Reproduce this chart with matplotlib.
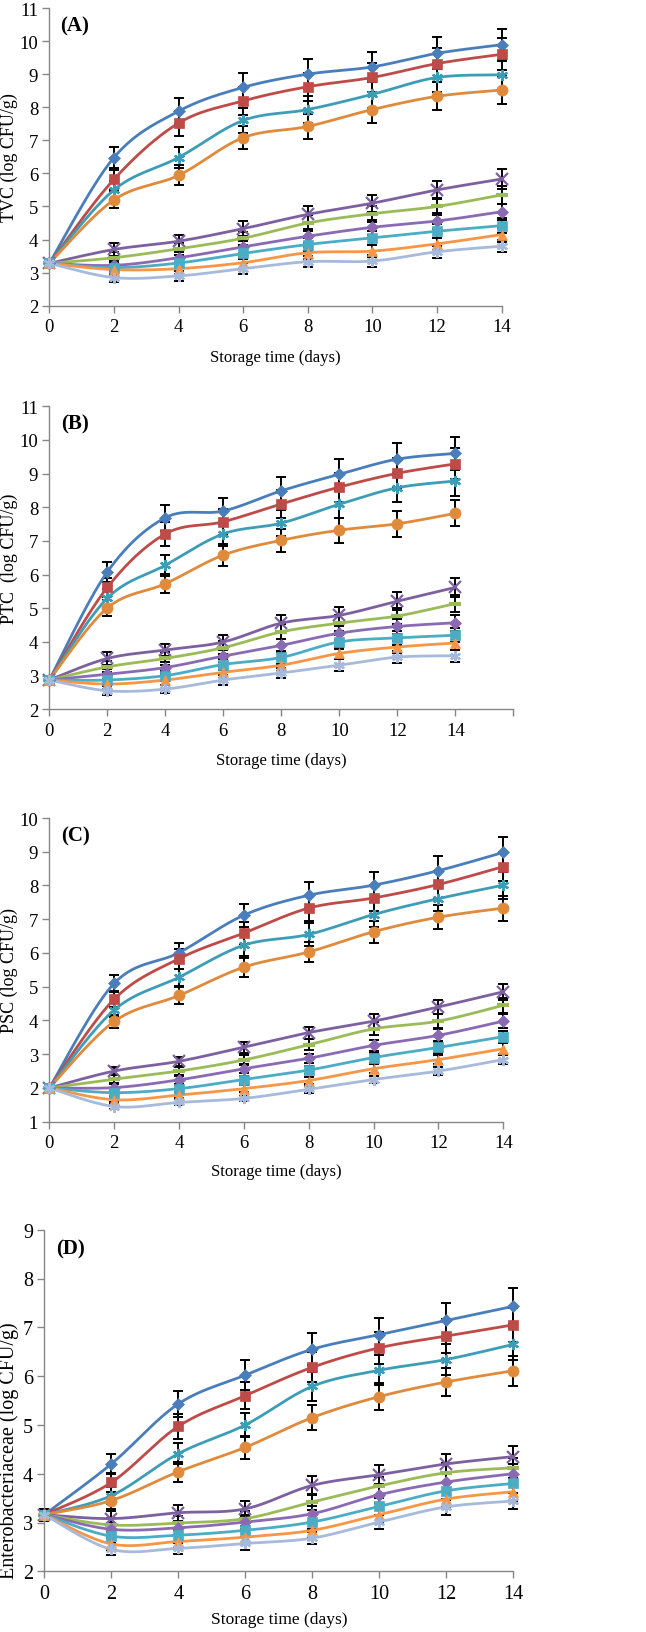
import numpy as np
import matplotlib
matplotlib.use("Agg")
import matplotlib.pyplot as plt

plt.rcParams['font.family'] = ['Liberation Serif', 'DejaVu Serif']

days = [0, 2, 4, 6, 8, 10, 12, 14]

# ---------------- Panel A : TVC ----------------
A_vals = [
    [3.28, 6.48, 7.88, 8.60, 9.00, 9.22, 9.63, 9.89],
    [3.28, 5.82, 7.52, 8.19, 8.62, 8.90, 9.32, 9.60],
    [3.28, 5.50, 6.48, 7.60, 7.93, 8.39, 8.90, 8.98],
    [3.28, 5.20, 5.94, 7.08, 7.42, 7.93, 8.33, 8.52],
    [3.28, 3.70, 3.95, 4.33, 4.76, 5.10, 5.50, 5.83],
    [3.28, 3.45, 3.72, 4.04, 4.50, 4.78, 5.00, 5.35],
    [3.28, 3.22, 3.45, 3.78, 4.10, 4.37, 4.56, 4.84],
    [3.28, 3.15, 3.29, 3.58, 3.85, 4.05, 4.25, 4.42],
    [3.28, 3.09, 3.12, 3.30, 3.60, 3.65, 3.87, 4.15],
    [3.28, 2.85, 2.90, 3.12, 3.33, 3.35, 3.63, 3.80],
]
A_err = [
    [0.08, 0.32, 0.39, 0.43, 0.45, 0.46, 0.48, 0.49],
    [0.08, 0.29, 0.38, 0.41, 0.43, 0.45, 0.47, 0.48],
    [0.08, 0.28, 0.32, 0.38, 0.40, 0.42, 0.45, 0.45],
    [0.08, 0.26, 0.30, 0.35, 0.37, 0.40, 0.42, 0.43],
    [0.08, 0.19, 0.20, 0.22, 0.24, 0.26, 0.28, 0.29],
    [0.08, 0.17, 0.19, 0.20, 0.23, 0.24, 0.25, 0.27],
    [0.08, 0.16, 0.17, 0.19, 0.21, 0.22, 0.23, 0.24],
    [0.08, 0.16, 0.16, 0.18, 0.19, 0.20, 0.21, 0.22],
    [0.08, 0.15, 0.16, 0.17, 0.18, 0.18, 0.19, 0.21],
    [0.08, 0.14, 0.15, 0.16, 0.17, 0.17, 0.18, 0.19],
]

# ---------------- Panel B : PTC ----------------
B_vals = [
    [2.87, 6.08, 7.69, 7.89, 8.49, 8.98, 9.43, 9.60],
    [2.87, 5.62, 7.21, 7.57, 8.10, 8.60, 9.01, 9.29],
    [2.87, 5.30, 6.28, 7.21, 7.53, 8.09, 8.58, 8.78],
    [2.87, 5.01, 5.73, 6.58, 7.02, 7.32, 7.51, 7.82],
    [2.87, 3.51, 3.76, 4.00, 4.56, 4.79, 5.21, 5.62],
    [2.87, 3.26, 3.51, 3.83, 4.30, 4.56, 4.77, 5.14],
    [2.87, 3.04, 3.24, 3.58, 3.90, 4.26, 4.46, 4.57],
    [2.87, 2.87, 3.00, 3.33, 3.54, 4.00, 4.12, 4.20],
    [2.87, 2.75, 2.87, 3.10, 3.31, 3.66, 3.85, 3.97],
    [2.87, 2.55, 2.60, 2.87, 3.08, 3.31, 3.55, 3.59],
]
B_err = [
    [0.07, 0.30, 0.38, 0.39, 0.42, 0.45, 0.47, 0.48],
    [0.07, 0.28, 0.36, 0.38, 0.41, 0.43, 0.45, 0.46],
    [0.07, 0.27, 0.31, 0.36, 0.38, 0.40, 0.43, 0.44],
    [0.07, 0.25, 0.29, 0.33, 0.35, 0.37, 0.38, 0.39],
    [0.07, 0.18, 0.19, 0.20, 0.23, 0.24, 0.26, 0.28],
    [0.07, 0.16, 0.18, 0.19, 0.22, 0.23, 0.24, 0.26],
    [0.07, 0.15, 0.16, 0.18, 0.20, 0.21, 0.22, 0.23],
    [0.07, 0.14, 0.15, 0.17, 0.18, 0.20, 0.21, 0.21],
    [0.07, 0.14, 0.14, 0.16, 0.17, 0.18, 0.19, 0.20],
    [0.07, 0.13, 0.13, 0.14, 0.15, 0.17, 0.18, 0.18],
]

# ---------------- Panel C : PSC ----------------
C_vals = [
    [2.00, 5.10, 6.01, 7.12, 7.71, 8.01, 8.44, 8.98],
    [2.00, 4.63, 5.83, 6.59, 7.33, 7.63, 8.03, 8.56],
    [2.00, 4.31, 5.28, 6.23, 6.55, 7.14, 7.61, 8.01],
    [2.00, 3.97, 4.74, 5.58, 6.03, 6.63, 7.06, 7.33],
    [2.00, 2.50, 2.79, 3.21, 3.64, 3.98, 4.40, 4.85],
    [2.00, 2.26, 2.50, 2.83, 3.28, 3.75, 3.98, 4.45],
    [2.00, 2.01, 2.24, 2.57, 2.88, 3.26, 3.56, 3.98],
    [2.00, 1.86, 1.98, 2.25, 2.53, 2.90, 3.20, 3.52],
    [2.00, 1.65, 1.79, 1.98, 2.22, 2.57, 2.84, 3.16],
    [2.00, 1.45, 1.57, 1.69, 1.96, 2.25, 2.50, 2.84],
]
C_err = [
    [0.05, 0.26, 0.30, 0.34, 0.39, 0.40, 0.42, 0.45],
    [0.05, 0.23, 0.29, 0.33, 0.37, 0.38, 0.40, 0.43],
    [0.05, 0.22, 0.26, 0.31, 0.33, 0.36, 0.38, 0.40],
    [0.05, 0.20, 0.24, 0.28, 0.30, 0.33, 0.35, 0.37],
    [0.05, 0.13, 0.14, 0.16, 0.18, 0.20, 0.22, 0.24],
    [0.05, 0.11, 0.13, 0.14, 0.16, 0.19, 0.20, 0.22],
    [0.05, 0.10, 0.11, 0.13, 0.14, 0.16, 0.18, 0.20],
    [0.05, 0.09, 0.10, 0.11, 0.13, 0.15, 0.16, 0.18],
    [0.05, 0.08, 0.09, 0.10, 0.11, 0.13, 0.14, 0.16],
    [0.05, 0.07, 0.08, 0.08, 0.10, 0.11, 0.13, 0.14],
]

# ---------------- Panel D : Enterobacteriaceae ----------------
D_vals = [
    [3.16, 4.20, 5.43, 6.02, 6.55, 6.85, 7.14, 7.43],
    [3.16, 3.82, 4.97, 5.60, 6.18, 6.58, 6.82, 7.05],
    [3.16, 3.55, 4.41, 5.00, 5.79, 6.12, 6.34, 6.65],
    [3.16, 3.45, 4.04, 4.54, 5.15, 5.58, 5.88, 6.11],
    [3.16, 3.08, 3.20, 3.28, 3.76, 3.98, 4.20, 4.35],
    [3.16, 2.95, 2.99, 3.08, 3.42, 3.75, 4.02, 4.12],
    [3.16, 2.86, 2.89, 3.01, 3.18, 3.57, 3.83, 4.00],
    [3.16, 2.72, 2.74, 2.84, 3.01, 3.33, 3.65, 3.80],
    [3.16, 2.56, 2.61, 2.70, 2.84, 3.16, 3.48, 3.63],
    [3.16, 2.45, 2.47, 2.57, 2.68, 3.01, 3.32, 3.44],
]
D_err = [
    [0.12, 0.21, 0.27, 0.30, 0.33, 0.34, 0.36, 0.37],
    [0.12, 0.19, 0.25, 0.28, 0.31, 0.33, 0.34, 0.35],
    [0.12, 0.18, 0.22, 0.25, 0.29, 0.31, 0.32, 0.33],
    [0.12, 0.17, 0.20, 0.23, 0.26, 0.28, 0.29, 0.31],
    [0.12, 0.15, 0.16, 0.16, 0.19, 0.20, 0.21, 0.22],
    [0.12, 0.15, 0.15, 0.15, 0.17, 0.19, 0.20, 0.21],
    [0.12, 0.14, 0.14, 0.15, 0.16, 0.18, 0.19, 0.20],
    [0.12, 0.14, 0.14, 0.14, 0.15, 0.17, 0.18, 0.19],
    [0.12, 0.13, 0.13, 0.14, 0.14, 0.16, 0.17, 0.18],
    [0.12, 0.12, 0.12, 0.13, 0.13, 0.15, 0.17, 0.17],
]

panel_labels = ['(A)', '(B)', '(C)', '(D)']
y_labels = ['TVC (log CFU/g)', 'PTC  (log CFU/g)', 'PSC (log CFU/g)',
            'Enterobacteriaceae (log CFU/g)']
x_label = 'Storage time (days)'

# ---------------- styles ----------------
colors = ['#4A7EBB', '#BE4B48', '#3E9DB6', '#E08A3C', '#7D60A0',
          '#9BBB59', '#8A6BB3', '#4BACC6', '#F79646', '#A7BADB']
markers = ['D', 's', (6, 2, 0), 'o', 'x', '_', 'D', 's', '^', (6, 2, 0)]
msizes = [6, 7, 8, 8, 8, 8, 6.5, 7, 7, 8]

W, H = 646, 1633
fig = plt.figure(figsize=(W / 100, H / 100), dpi=100)

# axes boxes in pixels: left, right, top, bottom
boxes = [
    (49.3, 501.7, 9.0, 306.7),
    (49.3, 513.3, 407.3, 710.3),
    (49.3, 503.3, 819.0, 1122.7),
    (44.3, 513.3, 1230.7, 1572.3),
]
ylims = [(2, 11), (2, 11), (1, 10), (2, 9)]
xmaxes = [14, 16, 14, 14]
all_vals = [A_vals, B_vals, C_vals, D_vals]
all_err = [A_err, B_err, C_err, D_err]
ylab_x = [9, 9, 9, 9]
ylab_yfrac = [0.5, 0.5, 0.5, 0.355]
ylab_fs = [13, 13, 13, 14.5]
tick_fs = [13.5, 13.5, 13.5, 14.5]
xlab_fs = [12, 12, 12, 12.5]
xlab_off = [51, 51, 49, 48]


def smooth_curve(x, y, n=30):
    pts = np.column_stack([np.asarray(x, float), np.asarray(y, float)])
    out = []
    m = len(pts)
    for i in range(m - 1):
        p0 = pts[i - 1] if i > 0 else pts[i]
        p1 = pts[i]
        p2 = pts[i + 1]
        p3 = pts[i + 2] if i + 2 < m else pts[i + 1]
        c1 = p1 + (p2 - p0) / 6.0
        c2 = p2 - (p3 - p1) / 6.0
        t = np.linspace(0, 1, n, endpoint=(i == m - 2))[:, None]
        seg = ((1 - t) ** 3) * p1 + 3 * ((1 - t) ** 2) * t * c1 \
            + 3 * (1 - t) * t ** 2 * c2 + t ** 3 * p2
        out.append(seg)
    out = np.vstack(out)
    return out[:, 0], out[:, 1]


spine_col = '#868686'
for k in range(4):
    l, r, t, b = boxes[k]
    ax = fig.add_axes([l / W, 1 - b / H, (r - l) / W, (b - t) / H])
    vals = all_vals[k]
    errs = all_err[k]
    for i in range(10):
        ax.errorbar(days, vals[i], yerr=errs[i], fmt='none', ecolor='black',
                    elinewidth=1.4, capsize=3.5, capthick=1.4, zorder=2,
                    clip_on=False)
    for i in range(10):
        sx, sy = smooth_curve(days, vals[i])
        ax.plot(sx, sy, color=colors[i], lw=2.0, zorder=3, clip_on=False,
                solid_capstyle='round')
    for i in range(10):
        mk = markers[i]
        mew = 1.6 if (mk in ('x', '_') or isinstance(mk, tuple)) else 0.5
        if mk == '_':
            mew = 3
        ax.plot(days, vals[i], linestyle='none', marker=mk, ms=msizes[i],
                color=colors[i], mec=colors[i], mew=mew, zorder=4,
                clip_on=False)

    ax.set_xlim(0, xmaxes[k])
    ax.set_ylim(*ylims[k])
    xt = list(range(0, xmaxes[k] + 1, 2))
    ax.set_xticks(xt)
    ax.set_xticklabels([str(v) if v <= 14 else '' for v in xt])
    ax.set_yticks(range(ylims[k][0], ylims[k][1] + 1))
    for s in ['top', 'right']:
        ax.spines[s].set_visible(False)
    for s in ['left', 'bottom']:
        ax.spines[s].set_color(spine_col)
        ax.spines[s].set_linewidth(1.0)
    ax.tick_params(axis='both', direction='out', length=5, width=1.0,
                   color=spine_col, labelsize=tick_fs[k], labelcolor='black')
    ax.tick_params(axis='x', pad=4)
    ax.tick_params(axis='y', pad=3)

    hpx = b - t
    wpx = r - l
    ax.set_xlabel(x_label, fontsize=xlab_fs[k], va='center')
    ax.xaxis.set_label_coords(0.5, -xlab_off[k] / hpx)
    ax.set_ylabel(y_labels[k], fontsize=ylab_fs[k], va='center')
    ax.yaxis.set_label_coords((ylab_x[k] - l) / wpx, ylab_yfrac[k])

    ax.text(0.025, 0.975, panel_labels[k], transform=ax.transAxes,
            fontsize=15, fontweight='bold', va='top', ha='left')

fig.savefig('out.png', dpi=100)
